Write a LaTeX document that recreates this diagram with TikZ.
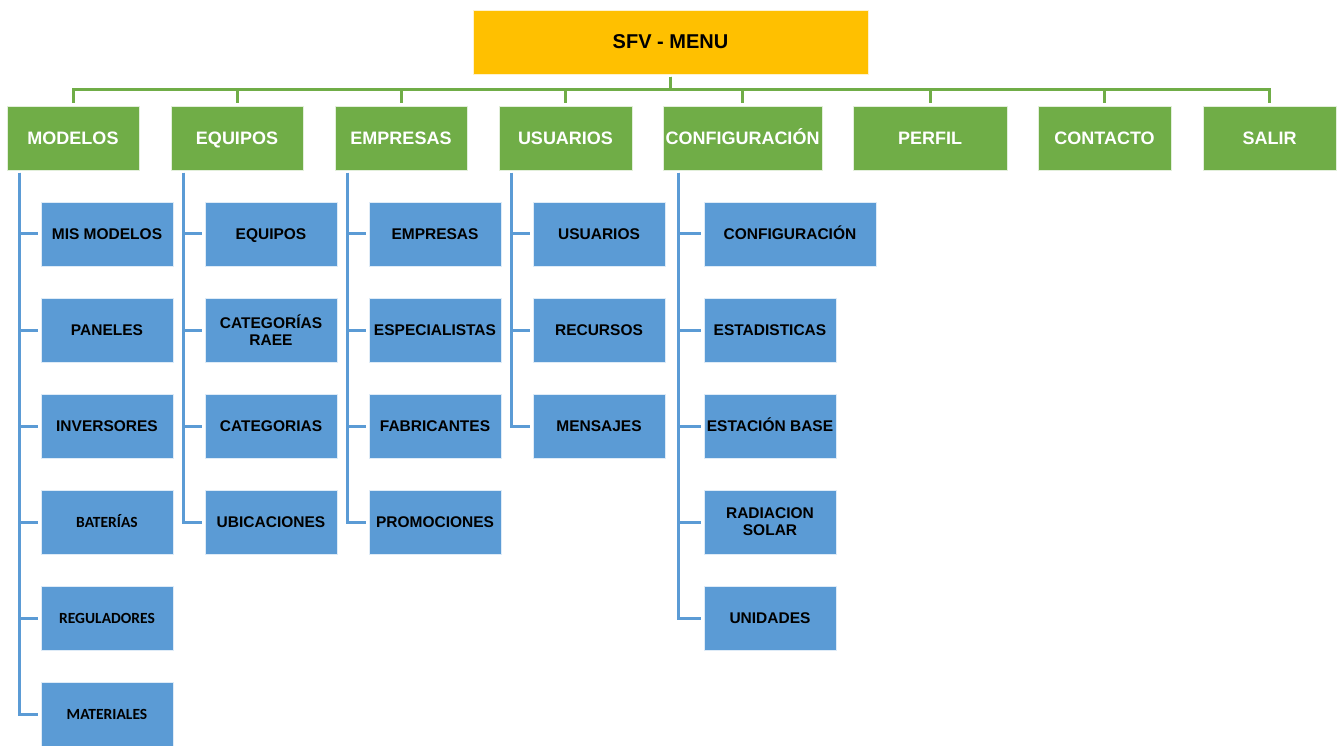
\documentclass[tikz,border=0pt]{standalone}
\usepackage{fontspec}
\setmainfont{Liberation Sans}
\newfontfamily\calibrifont{Carlito}
\usepackage{xcolor}
\definecolor{menugold}{HTML}{FFC000}
\definecolor{menugreen}{HTML}{70AD47}
\definecolor{menublue}{HTML}{5B9BD5}
\usetikzlibrary{positioning}

\tikzset{
  rootbox/.style={rectangle,fill=menugold,draw=white!80!menugold,minimum width=395pt,minimum height=64pt,inner sep=2pt,outer sep=0pt,font=\fontsize{20}{24}\selectfont\bfseries},
  menubox/.style={rectangle,fill=menugreen,draw=white!80!menugreen,minimum width=132pt,minimum height=64pt,inner sep=1pt,outer sep=0pt,text height=13pt,text depth=0pt,text=white,font=\fontsize{18}{21}\selectfont\bfseries},
  itembox/.style={rectangle,fill=menublue,draw=white!80!menublue,minimum width=132pt,minimum height=64pt,inner sep=1pt,outer sep=0pt,text height=11pt,text depth=0pt,align=center,font=\fontsize{15.5}{17}\selectfont\bfseries},
  smallitem/.style={itembox,font=\fontsize{15.5}{17}\selectfont\calibrifont\bfseries},
  twolines/.style={itembox,text height=,text depth=},
  greenline/.style={draw=menugreen,line width=3pt},
  blueline/.style={draw=menublue,line width=3pt}
}

\begin{document}
\begin{tikzpicture}[x=1pt,y=1pt,node distance=32pt] % 1pt = 1px of the layout
  \useasboundingbox (0,0) rectangle (1342,-746);
  % top of the menu
  \node[rootbox] (menu) at (670.5,-42) {SFV - MENU};
  % main entries
  \node[menubox,anchor=north west] (modelos) at (7,-106) {MODELOS};
  \node[menubox,right=of modelos] (equipos) {EQUIPOS};
  \node[menubox,right=of equipos] (empresas) {EMPRESAS};
  \node[menubox,right=of empresas,minimum width=133pt] (usuarios) {USUARIOS};
  \node[menubox,right=31pt of usuarios,minimum width=159pt] (configuracion) {CONFIGURACIÓN};
  \node[menubox,right=31pt of configuracion,minimum width=154pt] (perfil) {PERFIL};
  \node[menubox,right=31pt of perfil,minimum width=133pt] (contacto) {CONTACTO};
  \node[menubox,right=of contacto,minimum width=133pt] (salir) {SALIR};
  % sub entries of MODELOS
  \node[itembox,below right=32pt and 34pt of modelos.south west] (mismodelos) {MIS MODELOS};
  \node[itembox,below=of mismodelos] (paneles) {PANELES};
  \node[itembox,below=of paneles] (inversores) {INVERSORES};
  \node[smallitem,below=of inversores] (baterias) {BATERÍAS};
  \node[smallitem,below=of baterias] (reguladores) {REGULADORES};
  \node[smallitem,below=of reguladores] (materiales) {MATERIALES};
  % sub entries of EQUIPOS
  \node[itembox,below right=32pt and 34pt of equipos.south west] (equiposlist) {EQUIPOS};
  \node[twolines,below=of equiposlist] (categoriasraee) {CATEGORÍAS\\RAEE};
  \node[itembox,below=of categoriasraee] (categorias) {CATEGORIAS};
  \node[itembox,below=of categorias] (ubicaciones) {UBICACIONES};
  % sub entries of EMPRESAS
  \node[itembox,below right=32pt and 34pt of empresas.south west] (empresaslist) {EMPRESAS};
  \node[itembox,below=of empresaslist] (especialistas) {ESPECIALISTAS};
  \node[itembox,below=of especialistas] (fabricantes) {FABRICANTES};
  \node[itembox,below=of fabricantes] (promociones) {PROMOCIONES};
  % sub entries of USUARIOS
  \node[itembox,below right=32pt and 34pt of usuarios.south west] (usuarioslist) {USUARIOS};
  \node[itembox,below=of usuarioslist] (recursos) {RECURSOS};
  \node[itembox,below=of recursos] (mensajes) {MENSAJES};
  % sub entries of CONFIGURACION
  \node[itembox,below right=32pt and 41pt of configuracion.south west,minimum width=172pt] (configlist) {CONFIGURACIÓN};
  \node[itembox,below=of configlist.south west,anchor=north west] (estadisticas) {ESTADISTICAS};
  \node[itembox,below=of estadisticas] (estacion) {ESTACIÓN BASE};
  \node[twolines,below=of estacion] (radiacion) {RADIACION\\SOLAR};
  \node[itembox,below=of radiacion] (unidades) {UNIDADES};

  % connectors from the top box
  \foreach \entry in {modelos,equipos,empresas,usuarios,configuracion,perfil,contacto,salir}
    \draw[greenline] ([yshift=-3pt]menu.south) -- ++(0,-13) -| ([yshift=3pt]\entry.north);

  % trunks of the sub menus
  \coordinate (modelos-t) at ([xshift=12pt,yshift=-3pt]modelos.south west);
  \coordinate (equipos-t) at ([xshift=12pt,yshift=-3pt]equipos.south west);
  \coordinate (empresas-t) at ([xshift=12pt,yshift=-3pt]empresas.south west);
  \coordinate (usuarios-t) at ([xshift=12pt,yshift=-3pt]usuarios.south west);
  \coordinate (configuracion-t) at ([xshift=15pt,yshift=-3pt]configuracion.south west);
  \foreach \trunk/\item in {modelos-t/mismodelos,modelos-t/paneles,modelos-t/inversores,modelos-t/baterias,modelos-t/reguladores,modelos-t/materiales,
      equipos-t/equiposlist,equipos-t/categoriasraee,equipos-t/categorias,equipos-t/ubicaciones,
      empresas-t/empresaslist,empresas-t/especialistas,empresas-t/fabricantes,empresas-t/promociones,
      usuarios-t/usuarioslist,usuarios-t/recursos,usuarios-t/mensajes,
      configuracion-t/configlist,configuracion-t/estadisticas,configuracion-t/estacion,configuracion-t/radiacion,configuracion-t/unidades}
    \draw[blueline] (\trunk) |- ([xshift=-3pt]\item.west);
\end{tikzpicture}
\end{document}
